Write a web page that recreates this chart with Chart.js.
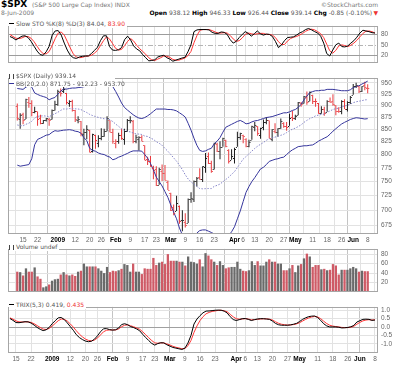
<!DOCTYPE html>
<html>
<head>
<meta charset="utf-8">
<script src="https://cdn.jsdelivr.net/npm/chart.js@4.4.1/dist/chart.umd.min.js"></script>
<style>
  body { margin: 0; width: 400px; height: 365px; overflow: hidden; position: relative; background: #fff; font-family: "DejaVu Sans", sans-serif; }
  canvas { position: absolute; left: 0; }
  .t { position: absolute; white-space: nowrap; font-size: 6px; line-height: 8px; color: #555; }
  .t b { color: #000; }
  .dash { display: inline-block; width: 5px; height: 1px; border-top: 1.5px solid #000; vertical-align: middle; margin-right: 2px; }
  .ico { display: inline-block; width: 3px; height: 5px; border-left: 1px solid #444; border-right: 1px solid #444; vertical-align: middle; margin-right: 2px; }
  .red { color: #e33; }
</style>
</head>
<body>
<div class="t" style="left:1px;top:-1px;font:bold 9px 'DejaVu Sans';color:#000">$SPX</div>
<div class="t" style="left:32px;top:1px;color:#777">(S&amp;P 500 Large Cap Index) INDX</div>
<div class="t" style="right:22px;top:1px;color:#777">©StockCharts.com</div>
<div class="t" style="left:1px;top:9px;color:#777">8-Jun-2009</div>
<div class="t" style="right:28px;top:9px"><b>Open</b> 938.12 <b>High</b> 946.33 <b>Low</b> 926.44 <b>Close</b> 939.14 <b>Chg</b> -0.85 (-0.10%)</div>
<div class="t red" style="right:22px;top:9px">▼</div>

<canvas id="sto" width="400" height="51" style="top:19px"></canvas>
<canvas id="price" width="400" height="175" style="top:71px"></canvas>
<canvas id="vol" width="400" height="57" style="top:242px"></canvas>
<canvas id="trix" width="400" height="65" style="top:300px"></canvas>

<div class="t" style="left:9px;top:20px;background:#fff;padding-right:2px"><span class="dash"></span>Slow STO %K(8) %D(3) 84.04, <span class="red">83.90</span></div>
<div class="t" style="left:9px;top:72px;width:106px;height:15px;background:#fff">
  <div><span class="ico"></span>$SPX (Daily) 939.14</div>
  <div><span class="dash" style="border-color:#33339a"></span>BB(20,2.0) 871.75 - 912.23 - 953.70</div>
</div>
<div class="t" style="left:9px;top:243px;background:#fff;padding-right:2px"><span class="ico"></span>Volume undef</div>
<div class="t" style="left:9px;top:301px;background:#fff;padding-right:2px"><span class="dash"></span>TRIX(5,3) 0.419, <span class="red">0.435</span></div>

<script>
// trading days shown on the chart
const days = [
  '2008-12-11','2008-12-12','2008-12-15','2008-12-16','2008-12-17','2008-12-18','2008-12-19','2008-12-22','2008-12-23','2008-12-24',
  '2008-12-26','2008-12-29','2008-12-30','2008-12-31','2009-01-02','2009-01-05','2009-01-06','2009-01-07','2009-01-08','2009-01-09',
  '2009-01-12','2009-01-13','2009-01-14','2009-01-15','2009-01-16','2009-01-20','2009-01-21','2009-01-22','2009-01-23','2009-01-26',
  '2009-01-27','2009-01-28','2009-01-29','2009-01-30','2009-02-02','2009-02-03','2009-02-04','2009-02-05','2009-02-06','2009-02-09',
  '2009-02-10','2009-02-11','2009-02-12','2009-02-13','2009-02-17','2009-02-18','2009-02-19','2009-02-20','2009-02-23','2009-02-24',
  '2009-02-25','2009-02-26','2009-02-27','2009-03-02','2009-03-03','2009-03-04','2009-03-05','2009-03-06','2009-03-09','2009-03-10',
  '2009-03-11','2009-03-12','2009-03-13','2009-03-16','2009-03-17','2009-03-18','2009-03-19','2009-03-20','2009-03-23','2009-03-24',
  '2009-03-25','2009-03-26','2009-03-27','2009-03-30','2009-03-31','2009-04-01','2009-04-02','2009-04-03','2009-04-06','2009-04-07',
  '2009-04-08','2009-04-09','2009-04-13','2009-04-14','2009-04-15','2009-04-16','2009-04-17','2009-04-20','2009-04-21','2009-04-22',
  '2009-04-23','2009-04-24','2009-04-27','2009-04-28','2009-04-29','2009-04-30','2009-05-01','2009-05-04','2009-05-05','2009-05-06',
  '2009-05-07','2009-05-08','2009-05-11','2009-05-12','2009-05-13','2009-05-14','2009-05-15','2009-05-18','2009-05-19','2009-05-20',
  '2009-05-21','2009-05-22','2009-05-26','2009-05-27','2009-05-28','2009-05-29','2009-06-01','2009-06-02','2009-06-03','2009-06-04',
  '2009-06-05','2009-06-08'
];

// date axis labels
const tickDays = ['2008-12-15','2008-12-22','2009-01-02','2009-01-12','2009-01-20','2009-01-26','2009-02-02','2009-02-09','2009-02-17',
  '2009-02-23','2009-03-02','2009-03-09','2009-03-16','2009-03-23','2009-04-01','2009-04-06','2009-04-13','2009-04-20','2009-04-27',
  '2009-05-01','2009-05-11','2009-05-18','2009-05-26','2009-06-01','2009-06-08'];
const tickText = ['15','22','2009','12','20','26','Feb','9','17','23','Mar','9','16','23','Apr','6','13','20','27','May','11','18','26','Jun','8'];
const monthTicks = ['2009','Feb','Mar','Apr','May','Jun'];

// $SPX daily bars
const opens = [
  898, 871, 881, 871, 908, 905, 886, 887, 874, 863,
  869, 872, 870, 891, 903, 929, 931, 927, 905, 909,
  890, 869, 867, 841, 845, 849, 806, 839, 823, 832,
  837, 846, 868, 845, 823, 826, 838, 831, 846, 868,
  866, 827, 830, 834, 818, 792, 788, 775, 773, 744,
  770, 766, 749, 730, 705, 699, 708, 684, 680, 679,
  720, 719, 751, 758, 754, 777, 797, 784, 772, 820,
  807, 815, 829, 809, 790, 793, 815, 835, 839, 831,
  817, 829, 855, 856, 839, 854, 865, 868, 831, 847,
  844, 853, 863, 856, 857, 876, 873, 880, 906, 904,
  919, 910, 923, 910, 905, 884, 892, 886, 909, 909,
  900, 888, 887, 909, 892, 908, 923, 942, 943, 932,
  945, 938.12
];
const highs = [
  904, 883, 884, 914, 918, 911, 897, 887, 880, 869,
  873, 873, 891, 910, 934, 937, 943, 927, 911, 912,
  890, 877, 867, 851, 858, 849, 841, 839, 838, 852,
  851, 877, 868, 851, 830, 843, 851, 851, 871, 877,
  869, 839, 836, 838, 818, 796, 797, 779, 778, 775,
  781, 780, 752, 730, 710, 725, 708, 700, 695, 720,
  731, 752, 758, 774, 778, 803, 804, 788, 823, 823,
  826, 833, 829, 810, 810, 813, 845, 843, 839, 832,
  829, 857, 865, 856, 853, 870, 875, 868, 850, 862,
  852, 872, 864, 865, 882, 888, 880, 907, 907, 920,
  930, 930, 923, 915, 905, 898, 897, 911, 917, 924,
  900, 896, 911, 913, 909, 920, 947, 950, 943, 942,
  952, 946.33
];
const lows = [
  868, 851, 860, 871, 895, 877, 883, 857, 860, 861,
  866, 857, 870, 889, 899, 919, 927, 902, 897, 887,
  865, 862, 836, 818, 830, 804, 804, 811, 814, 828,
  835, 846, 844, 821, 812, 821, 829, 819, 845, 862,
  822, 822, 808, 826, 789, 780, 777, 754, 742, 744,
  751, 752, 735, 699, 692, 699, 678, 666, 672, 679,
  713, 714, 741, 753, 749, 766, 782, 766, 772, 805,
  791, 815, 814, 783, 790, 783, 815, 829, 822, 814,
  814, 829, 846, 837, 831, 848, 860, 832, 826, 842,
  835, 851, 853, 847, 857, 867, 869, 879, 897, 904,
  901, 909, 903, 897, 882, 882, 878, 886, 906, 899,
  879, 884, 881, 892, 887, 903, 923, 938, 927, 929,
  933, 926.44
];
const closes = [
  873.59, 879.73, 868.57, 913.18, 904.42, 885.28, 887.88, 871.63, 863.16, 868.15,
  872.80, 869.42, 890.64, 903.25, 931.80, 927.45, 934.70, 906.65, 909.73, 890.35,
  870.26, 871.79, 842.62, 843.74, 850.12, 805.22, 840.24, 827.50, 831.95, 836.57,
  845.71, 874.09, 845.14, 825.88, 825.44, 838.51, 832.23, 845.85, 868.60, 869.89,
  827.16, 833.74, 835.19, 826.84, 789.17, 788.42, 778.94, 770.05, 743.33, 773.14,
  764.90, 752.83, 735.09, 700.82, 696.33, 712.87, 682.55, 683.38, 676.53, 719.60,
  721.36, 750.74, 756.55, 753.89, 778.12, 794.35, 784.04, 768.54, 822.92, 806.12,
  813.88, 832.86, 815.94, 787.53, 797.87, 811.08, 834.38, 842.50, 835.48, 815.55,
  825.16, 856.56, 858.73, 841.50, 852.06, 865.30, 869.60, 832.39, 850.08, 843.55,
  851.92, 866.23, 857.51, 855.16, 873.64, 872.81, 877.52, 907.24, 903.80, 919.53,
  907.39, 929.23, 909.24, 908.35, 883.92, 893.07, 882.88, 909.71, 908.13, 903.47,
  888.33, 887.00, 910.33, 893.06, 906.83, 919.14, 942.87, 944.74, 931.76, 942.46,
  940.09, 939.14
];

// Bollinger Bands (20, 2.0)
const bbUpper = [
  937, 936, 935, 940, 943.5, 940, 927, 923.7, 921, 919,
  917, 912, 915, 917, 924, 931, 936, 935.5, 937, 938,
  938, 939, 939.7, 941, 942, 945, 946, 945.7, 945, 944,
  943, 943, 944, 941, 930, 918, 905, 895.5, 890, 885,
  880, 876, 873, 872, 874, 877.6, 882, 887, 892, 892,
  892, 892, 891, 891, 890, 888, 884, 880, 875, 862,
  848, 832, 818, 808, 806, 807, 810, 812, 821, 826,
  833, 844, 854, 857, 860, 863, 866, 868, 865, 861,
  862, 865, 867, 868, 870, 872, 874, 875, 876, 878,
  880, 882, 884, 884, 886, 889, 891, 895.5, 902, 912,
  920, 928, 930, 932, 932, 933, 933, 935, 935, 935,
  934, 933, 932, 932, 932, 934, 939, 941.6, 943, 947,
  950, 953.70
];
const bbMiddle = [
  858.7, 857.2, 856.9, 860.1, 862.3, 866.3, 873.0, 876.6, 877.2, 877.7,
  877.0, 875.6, 879.3, 882.1, 885.1, 889.2, 892.2, 892.0, 893.1, 892.6,
  892.5, 892.1, 890.8, 887.3, 884.6, 880.6, 878.2, 876.0, 874.4, 872.8,
  871.5, 871.7, 869.4, 865.6, 860.3, 855.8, 850.7, 847.6, 845.6, 844.6,
  842.4, 840.5, 840.1, 839.3, 836.2, 835.4, 832.3, 829.5, 825.0, 821.9,
  817.8, 811.8, 806.3, 800.0, 793.6, 787.3, 779.8, 771.7, 762.1, 754.5,
  749.3, 745.1, 741.2, 737.5, 737.0, 737.3, 737.5, 737.4, 741.4, 743.1,
  745.5, 749.5, 753.6, 757.9, 763.0, 767.9, 775.5, 783.4, 791.4, 796.2,
  801.4, 806.7, 811.8, 816.2, 819.9, 823.4, 827.7, 830.9, 832.2, 834.1,
  836.0, 837.7, 839.7, 843.1, 846.9, 850.0, 852.2, 855.4, 858.8, 864.0,
  868.1, 871.8, 874.3, 877.6, 879.2, 880.6, 881.3, 885.1, 888.0, 891.0,
  892.9, 893.9, 896.5, 898.4, 900.1, 902.4, 905.7, 907.6, 908.9, 910.1,
  911.7, 912.23
];
const bbLower = [
  780, 778, 779, 780, 781, 792, 819, 829.5, 832, 835,
  838, 839, 843.7, 847, 846, 847, 848, 848.5, 849, 848,
  846, 845, 841.9, 833, 827, 812, 808, 806.3, 803, 801,
  800, 797, 795, 790, 792, 795, 797, 799.7, 802, 805,
  807, 807, 807, 806.5, 800, 793.2, 783, 771, 758, 750,
  742, 732, 722, 709, 697, 686, 671, 660, 649, 650,
  653, 658, 663, 667, 668, 668, 666, 664, 661.5, 660,
  658, 655, 653, 659, 665, 673, 686, 699, 715, 731,
  741, 750, 757, 765, 773, 776, 781, 787, 789, 791,
  792, 794, 795, 800, 805, 809, 812, 815.3, 816, 817,
  817, 818, 818.6, 822, 826, 829, 832, 834.8, 840, 846,
  851, 856, 860.7, 864, 867, 870, 872, 873.6, 873, 872,
  871, 871.75
];
const priceTicks = [675, 700, 725, 750, 775, 800, 825, 850, 875, 900, 925, 950];

// Slow stochastic %K(8) %D(3)
const stoK = [
  74, 70, 64, 70, 75, 76, 71, 60, 46, 32,
  22, 20, 30, 46, 78, 90, 91, 78, 55, 35,
  20, 13, 11, 15, 17, 18, 18, 25, 34, 43,
  62, 76, 76, 45, 35, 34, 36, 42, 65, 75,
  64, 47, 38, 33, 22, 13, 4, 5, 7, 15,
  18, 20, 13, 9, 3, 6, 9, 12, 14, 30,
  50, 88, 93, 94, 94, 94, 93, 86, 83, 83,
  87, 86, 80, 65, 55, 60, 71, 80, 88, 83,
  75, 82, 90, 82, 78, 81, 80, 74, 60, 42,
  50, 62, 71, 72, 73, 78, 84, 88, 94, 97,
  93, 88, 84, 75, 55, 25, 18, 35, 50, 55,
  45, 44, 47, 55, 62, 72, 84, 92, 90, 88,
  85, 84.04
];
const stoD = [
  80, 74, 69, 68, 70, 74, 74, 69, 59, 46,
  33, 25, 24, 31, 48, 68, 84, 87, 78, 60,
  41, 24, 15, 13, 14, 17, 18, 20, 26, 34,
  48, 62, 73, 67, 54, 40, 35, 37, 48, 60,
  68, 61, 49, 39, 31, 23, 13, 7, 5, 9,
  13, 18, 17, 14, 8, 6, 6, 9, 12, 19,
  31, 56, 77, 92, 94, 94, 94, 91, 87, 84,
  84, 85, 84, 77, 67, 60, 62, 70, 80, 84,
  82, 80, 82, 83, 83, 80, 80, 78, 71, 59,
  51, 51, 61, 68, 72, 74, 78, 83, 89, 93,
  95, 93, 88, 82, 71, 52, 33, 26, 34, 47,
  50, 48, 45, 49, 55, 63, 73, 83, 89, 90,
  88, 83.90
];
const stoTicks = [20, 50, 80];

// volume (scaled as on the chart)
const volume = [
  43, 42, 35, 50, 43, 43, 52, 33, 28, 10,
  12, 16, 24, 27, 28, 37, 42, 37, 35, 37,
  34, 43, 45, 60, 54, 54, 54, 54, 50, 45,
  40, 53, 42, 45, 44, 46, 49, 59, 57, 43,
  60, 43, 43, 38, 50, 49, 49, 72, 57, 62,
  64, 59, 80, 66, 66, 66, 64, 64, 56, 75,
  64, 63, 60, 69, 54, 82, 77, 69, 64, 57,
  65, 57, 50, 52, 53, 53, 64, 49, 45, 44,
  46, 65, 57, 65, 56, 56, 64, 69, 64, 64,
  60, 60, 46, 46, 50, 57, 42, 56, 59, 71,
  81, 75, 53, 57, 57, 48, 49, 46, 47, 59,
  56, 37, 47, 47, 47, 50, 53, 50, 43, 45,
  44, 44
];
const volTicks = [20, 40, 60, 80];

// TRIX(5,3) and its signal line
const trix = [
  0.51, 0.40, 0.27, 0.26, 0.29, 0.32, 0.31, 0.24, 0.12, -0.02,
  -0.13, -0.21, -0.16, -0.02, 0.20, 0.38, 0.55, 0.57, 0.45, 0.25,
  0.03, -0.19, -0.45, -0.62, -0.74, -0.83, -0.87, -0.84, -0.72, -0.52,
  -0.28, -0.10, -0.09, -0.15, -0.18, -0.16, -0.06, 0.15, 0.20, 0.14,
  0.03, -0.03, -0.11, -0.22, -0.43, -0.62, -0.80, -0.97, -1.07, -0.98,
  -0.93, -0.94, -1.05, -1.13, -1.21, -1.25, -1.29, -1.33, -1.25, -0.95,
  -0.50, 0.18, 0.48, 0.68, 0.85, 0.95, 0.96, 0.98, 1.00, 1.01,
  1.00, 0.95, 0.84, 0.62, 0.45, 0.39, 0.44, 0.50, 0.51, 0.46,
  0.39, 0.44, 0.48, 0.50, 0.50, 0.48, 0.46, 0.36, 0.22, 0.14,
  0.11, 0.11, 0.11, 0.13, 0.17, 0.22, 0.33, 0.46, 0.55, 0.62,
  0.65, 0.66, 0.57, 0.40, 0.20, 0.07, 0.01, 0.01, 0.01, -0.01,
  -0.05, -0.04, -0.02, 0.02, 0.10, 0.30, 0.38, 0.46, 0.47, 0.46,
  0.40, 0.419
];
const trixSignal = [
  0.55, 0.47, 0.37, 0.31, 0.30, 0.31, 0.31, 0.28, 0.20, 0.09,
  -0.02, -0.12, -0.14, -0.08, 0.06, 0.22, 0.38, 0.48, 0.46, 0.36,
  0.19, 0.00, -0.22, -0.42, -0.58, -0.71, -0.79, -0.82, -0.77, -0.65,
  -0.47, -0.28, -0.19, -0.17, -0.17, -0.17, -0.11, 0.02, 0.11, 0.13,
  0.08, 0.02, -0.05, -0.13, -0.28, -0.45, -0.63, -0.80, -0.94, -0.96,
  -0.94, -0.94, -1.00, -1.06, -1.14, -1.20, -1.24, -1.29, -1.27, -1.11,
  -0.80, -0.32, 0.07, 0.39, 0.62, 0.79, 0.87, 0.93, 0.96, 0.99,
  1.00, 0.97, 0.91, 0.76, 0.61, 0.50, 0.47, 0.48, 0.50, 0.48,
  0.43, 0.44, 0.46, 0.48, 0.49, 0.49, 0.47, 0.42, 0.32, 0.23,
  0.17, 0.14, 0.12, 0.13, 0.15, 0.19, 0.26, 0.36, 0.46, 0.54,
  0.60, 0.63, 0.60, 0.50, 0.35, 0.21, 0.11, 0.06, 0.03, 0.01,
  -0.02, -0.03, -0.03, -0.01, 0.05, 0.17, 0.28, 0.37, 0.42, 0.44,
  0.42, 0.435
];
const trixTicks = [-1, -0.5, 0, 0.5, 1];

const UP = '#1a1a1a';
const DOWN = '#e8383c';
const X_MIN = -0.65, X_MAX = 122.0;

function isDown(i) {
  return closes[i] < (i ? closes[i - 1] : opens[i]);
}
function barColor(i) {
  return isDown(i) ? DOWN : UP;
}
function isMonth(i) {
  return monthTicks.includes(tickText[i]);
}
function series(values) {
  return values.map((v, i) => ({ x: i, y: v }));
}

// axis helpers
function dateAxis(showLabels) {
  return {
    type: 'linear',
    min: X_MIN,
    max: X_MAX,
    afterBuildTicks: s => { s.ticks = tickDays.map(d => ({ value: days.indexOf(d) })); },
    afterFit: s => { s.height = showLabels ? 12 : 0; },
    ticks: {
      display: showLabels,
      autoSkip: false,
      maxRotation: 0,
      padding: 2,
      color: ctx => isMonth(ctx.index) ? '#000' : '#666',
      font: ctx => ({ family: 'Liberation Sans', size: 6.5, weight: isMonth(ctx.index) ? 'bold' : 'normal' }),
      callback: (v, i) => tickText[i]
    },
    grid: { drawTicks: false, color: ctx => isMonth(ctx.index) ? '#c4c4c4' : '#e2e2e2' },
    border: { display: false }
  };
}
function valueAxis(extra, tickValues, fmt, gridColor) {
  return Object.assign({
    position: 'right',
    afterBuildTicks: s => { s.ticks = tickValues.map(v => ({ value: v })); },
    afterFit: s => { s.width = 22; },
    ticks: { padding: 3, color: '#666', font: { family: 'Liberation Sans', size: 6.5 }, callback: v => fmt(v) },
    grid: { drawTicks: false, color: gridColor || '#e2e2e2' },
    border: { display: false }
  }, extra);
}

// frame round each pane, plus the dash-dot mid line of the oscillator
const decor = {
  id: 'decor',
  beforeDatasetsDraw(chart, args, opts) {
    if (opts.dashAt === undefined) return;
    const a = chart.chartArea, c = chart.ctx;
    const y = Math.round(chart.scales.y.getPixelForValue(opts.dashAt)) + 0.5;
    c.save();
    c.strokeStyle = '#b4b4b4';
    c.lineWidth = 1;
    c.setLineDash([5, 2, 1, 2]);
    c.beginPath();
    c.moveTo(a.left, y);
    c.lineTo(a.right, y);
    c.stroke();
    c.restore();
  },
  afterDraw(chart) {
    const a = chart.chartArea, c = chart.ctx;
    c.save();
    c.strokeStyle = '#a6a6a6';
    c.lineWidth = 1;
    c.strokeRect(Math.round(a.left) + 0.5, Math.round(a.top) + 0.5, Math.round(a.right - a.left) - 1, Math.round(a.bottom - a.top) - 1);
    c.restore();
  }
};

// open / close ticks of the OHLC bars
const ohlcTicks = {
  id: 'ohlcTicks',
  afterDatasetsDraw(chart) {
    const xs = chart.scales.x, ys = chart.scales.y, c = chart.ctx, a = chart.chartArea;
    c.save();
    c.beginPath();
    c.rect(a.left, a.top, a.right - a.left, a.bottom - a.top);
    c.clip();
    c.lineWidth = 1;
    closes.forEach((cl, i) => {
      const px = xs.getPixelForValue(i);
      const po = Math.round(ys.getPixelForValue(opens[i])) + 0.5;
      const pc = Math.round(ys.getPixelForValue(cl)) + 0.5;
      c.strokeStyle = barColor(i);
      c.beginPath();
      c.moveTo(px - 1.5, po);
      c.lineTo(px - 0.5, po);
      c.moveTo(px + 0.5, pc);
      c.lineTo(px + 1.5, pc);
      c.stroke();
    });
    c.restore();
  }
};

const common = {
  responsive: false,
  animation: false,
  events: [],
  layout: { padding: { left: 8, right: 0, top: 0, bottom: 0 }, autoPadding: false },
  plugins: { legend: { display: false }, tooltip: { enabled: false } }
};
function opts(scales, extraPlugins) {
  return Object.assign({}, common, {
    scales: scales,
    plugins: Object.assign({}, common.plugins, extraPlugins || {})
  });
}
function lineSet(values, color, width, dash) {
  return {
    type: 'line',
    data: series(values),
    borderColor: color,
    borderWidth: width,
    borderDash: dash || [],
    pointRadius: 0,
    tension: 0,
    fill: false
  };
}

// Start of slow stochastics pane
new Chart(document.getElementById('sto'), {
  type: 'line',
  data: {
    datasets: [
      lineSet(stoK, '#000', 1),
      lineSet(stoD, '#ff3535', 1)
    ]
  },
  options: opts({
    x: dateAxis(false),
    y: valueAxis({ min: -2.5, max: 104.5 }, stoTicks, v => String(v),
      ctx => ctx.tick && ctx.tick.value === 50 ? 'rgba(0,0,0,0)' : '#9c9c9c')
  }, { decor: { dashAt: 50 } }),
  plugins: [decor]
});
// End of slow stochastics pane

// Start of price pane
new Chart(document.getElementById('price'), {
  type: 'bar',
  data: {
    datasets: [
      lineSet(bbUpper, '#35359c', 1),
      lineSet(bbMiddle, '#8484c8', 1, [1.5, 1.5]),
      lineSet(bbLower, '#35359c', 1),
      {
        type: 'bar',
        data: days.map((d, i) => ({ x: i, y: [lows[i], highs[i]] })),
        backgroundColor: days.map((d, i) => barColor(i)),
        borderWidth: 0,
        inflateAmount: 0,
        barThickness: 1
      }
    ]
  },
  options: opts({
    x: dateAxis(true),
    y: valueAxis({ type: 'logarithmic', min: 661.5, max: 961 }, priceTicks, v => String(v))
  }, { decor: {} }),
  plugins: [decor, ohlcTicks]
});
// End of price pane

// Start of volume pane
new Chart(document.getElementById('vol'), {
  type: 'bar',
  data: {
    datasets: [{
      data: series(volume),
      backgroundColor: days.map((d, i) => isDown(i) ? '#cf5a66' : '#6a6a6a'),
      borderWidth: 0,
      inflateAmount: 0,
      barThickness: 2.3
    }]
  },
  options: opts({
    x: dateAxis(false),
    y: valueAxis({ min: 0, max: 91 }, volTicks, v => String(v))
  }, { decor: {} }),
  plugins: [decor]
});
// End of volume pane

// Start of TRIX pane
new Chart(document.getElementById('trix'), {
  type: 'line',
  data: {
    datasets: [
      lineSet(trix, '#000', 1),
      lineSet(trixSignal, '#ff3535', 1)
    ]
  },
  options: opts({
    x: dateAxis(true),
    y: valueAxis({ min: -1.54, max: 1.2 }, trixTicks, v => v.toFixed(1),
      ctx => ctx.tick && ctx.tick.value === 0 ? '#a0a0a0' : '#e2e2e2')
  }, { decor: {} }),
  plugins: [decor]
});
// End of TRIX pane
</script>
</body>
</html>
